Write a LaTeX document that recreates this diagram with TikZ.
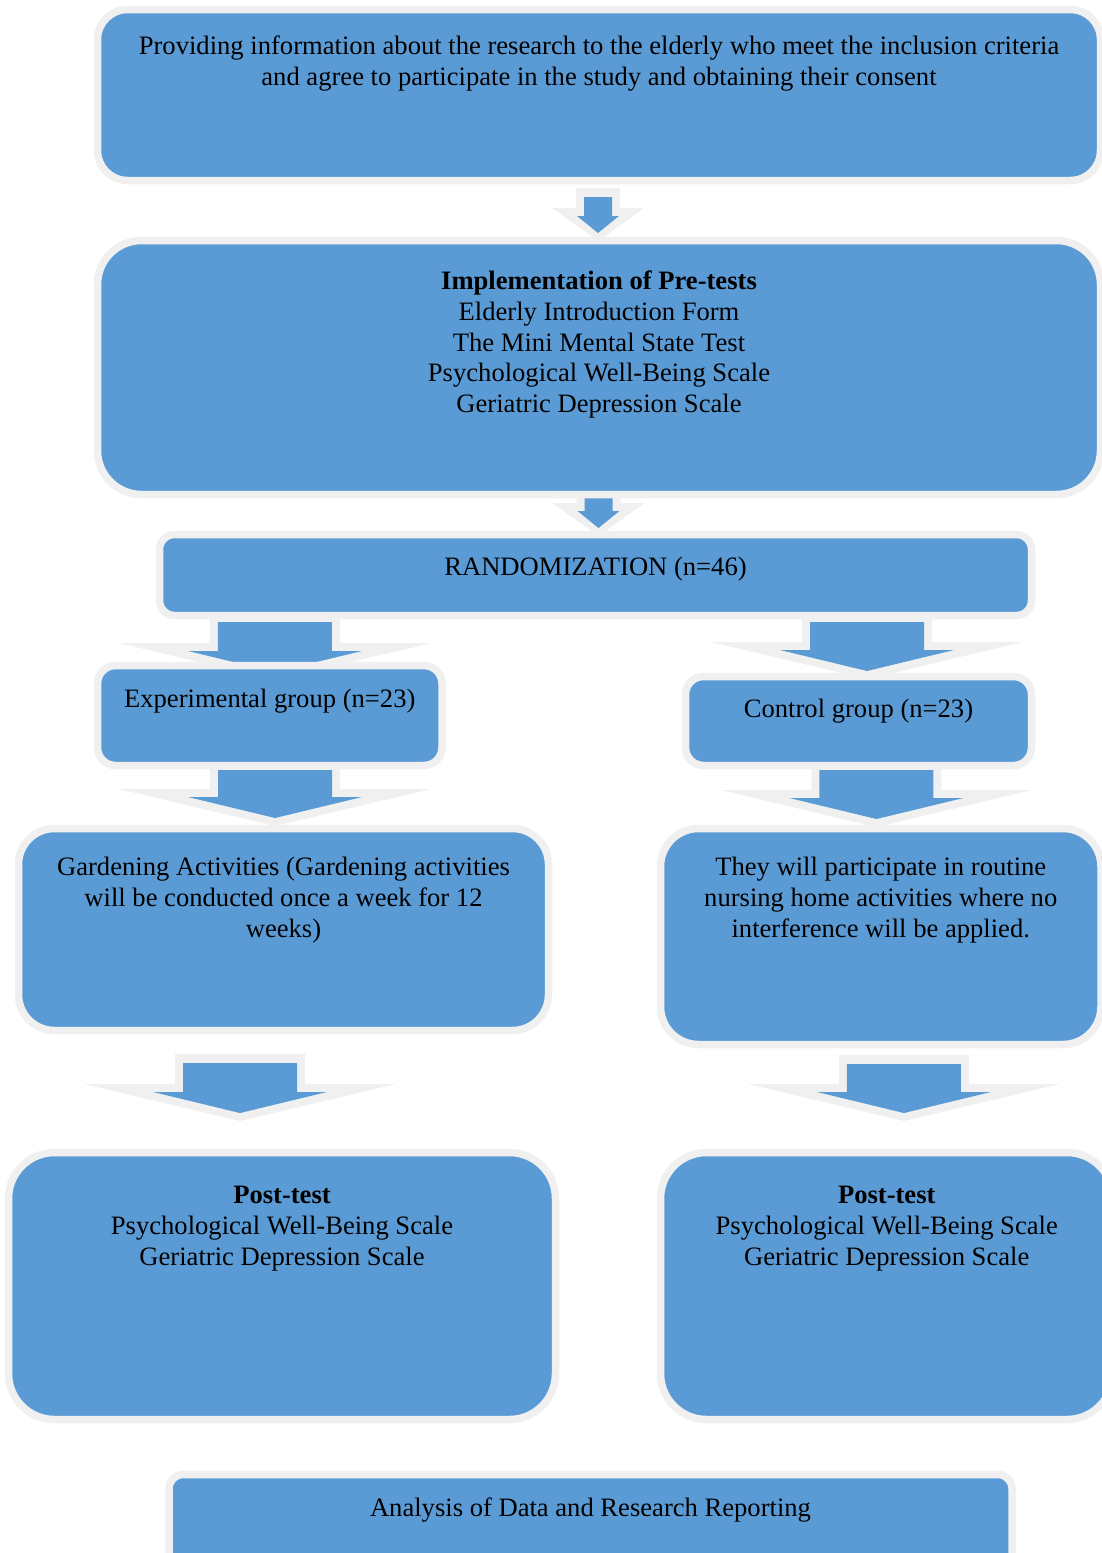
\documentclass[tikz,border=0pt]{standalone}
\usepackage{fontspec}
\setmainfont{Liberation Serif}
\usepackage{tikz}
\usetikzlibrary{calc,backgrounds}
\definecolor{flowblue}{HTML}{5B9BD5}
\definecolor{flowgray}{HTML}{F0F0F0}

% block arrow: #1 shaft half width, #2 head half width, #3 head length,
% #4 glow head half width, #5 start (top of shaft), #6 tip
\newcommand{\blockarrow}[6]{%
  \coordinate (ba-s) at (#5);
  \coordinate (ba-e) at (#6);
  \coordinate (ba-t) at (ba-e |- ba-s);
  \fill[flowgray] ([shift={(-#1-4,-4.5)}]ba-t) -- ([shift={(#1+4,-4.5)}]ba-t)
    -- ([shift={(#1+4,-#3-4)}]ba-e) -- ([shift={(#4,-#3-4)}]ba-e) -- ([shift={(0,4)}]ba-e)
    -- ([shift={(-#4,-#3-4)}]ba-e) -- ([shift={(-#1-4,-#3-4)}]ba-e) -- cycle;
  \fill[flowblue] ([shift={(-#1,0)}]ba-t) -- ([shift={(#1,0)}]ba-t)
    -- ([shift={(#1,-#3)}]ba-e) -- ([shift={(#2,-#3)}]ba-e) -- (ba-e)
    -- ([shift={(-#2,-#3)}]ba-e) -- ([shift={(-#1,-#3)}]ba-e) -- cycle;
}
\newcommand{\smallarrow}[2]{\blockarrow{7}{10.5}{8.5}{23}{#1}{#2}}
\newcommand{\bigarrow}[2]{\blockarrow{28.5}{43.5}{10.5}{78}{#1}{#2}}

\begin{document}
\begin{tikzpicture}[
  x=1pt, y=-1pt,
  stage/.style={draw=flowgray, line width=3.75pt, fill=flowblue, inner sep=0pt, outer sep=0pt,
    anchor=north west, align=center, font=\fontsize{13.3}{15.4}\selectfont}
]
\useasboundingbox (0,0) rectangle (551,776.5);

% Nodes
\node[stage, minimum width=501.5pt, text height=37.9pt, text depth=47.6pt, rounded corners=15pt] (consent) at (48.75,4.75)
  {Providing information about the research to the elderly who meet the inclusion criteria\\
   and agree to participate in the study and obtaining their consent};
\node[stage, minimum width=501.5pt, text height=86.1pt, text depth=40.9pt, rounded corners=22pt] (pretest) at (48.75,120.25)
  {\textbf{Implementation of Pre-tests}\\ Elderly Introduction Form\\ The Mini Mental State Test\\
   Psychological Well-Being Scale\\ Geriatric Depression Scale};
\node[stage, minimum width=436pt, text height=20.25pt, text depth=20.25pt, rounded corners=7.5pt] (random) at (79.75,267.25)
  {RANDOMIZATION (n=46)};
\node[stage, minimum width=172.25pt, text height=20.75pt, text depth=29.25pt, rounded corners=9pt] (expgroup) at (48.75,332.75)
  {Experimental group (n=23)};
\node[stage, minimum width=173pt, text height=20.25pt, text depth=24.25pt, rounded corners=9pt] (ctrlgroup) at (342.75,338.25)
  {Control group (n=23)};
\node[stage, minimum width=265pt, text height=54.3pt, text depth=46.7pt, rounded corners=18pt] (garden) at (9.25,414.25)
  {Gardening Activities (Gardening activities\\ will be conducted once a week for 12\\ weeks)};
\node[stage, minimum width=220.25pt, text height=54.3pt, text depth=53.7pt, rounded corners=19pt] (routine) at (330.25,414.25)
  {They will participate in routine\\ nursing home activities where no\\ interference will be applied.};
\node[stage, minimum width=273.5pt, text height=56.3pt, text depth=77.2pt, rounded corners=23pt] (postexp) at (4.25,576.25)
  {\textbf{Post-test}\\ Psychological Well-Being Scale\\ Geriatric Depression Scale};
\node[stage, minimum width=226.25pt, text height=56.3pt, text depth=77.2pt, rounded corners=23pt] (postctrl) at (330.25,576.25)
  {\textbf{Post-test}\\ Psychological Well-Being Scale\\ Geriatric Depression Scale};
\node[stage, minimum width=421.5pt, text height=20.75pt, text depth=42pt, rounded corners=7pt] (analysis) at (84.5,737.25)
  {Analysis of Data and Research Reporting};

% Edges
\begin{scope}[on background layer]
\smallarrow{$(consent.south)+(0,8.25)$}{$(pretest.north)+(-0.5,-3.75)$}
\smallarrow{$(pretest.south)+(0,-5.75)$}{$(random.north)+(1.5,-3.25)$}
\bigarrow{$(random.south)+(0,3.25)$}{$(expgroup.north)+(2.6,3.25)$}
\bigarrow{$(random.south)+(0,3.25)$}{$(ctrlgroup.north)+(4.25,-2.75)$}
\bigarrow{$(expgroup.south)+(0,2.25)$}{$(garden.north)+(-4.25,-5.25)$}
\bigarrow{$(ctrlgroup.south)+(0,2.25)$}{$(routine.north)+(-2.15,-4.75)$}
\bigarrow{$(garden.south)+(0,16.25)$}{$(postexp.north)+(-21,-19.75)$}
\bigarrow{$(routine.south)+(0,9.75)$}{$(postctrl.north)+(8.6,-19.75)$}
\end{scope}

\end{tikzpicture}
\end{document}
